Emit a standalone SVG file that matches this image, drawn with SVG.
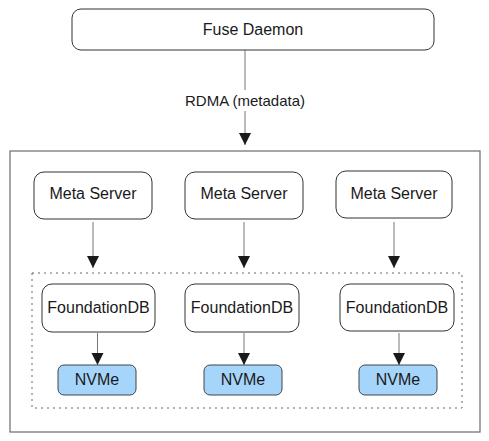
<svg xmlns="http://www.w3.org/2000/svg" width="489" height="441" viewBox="0 0 489 441">
<defs>
<marker id="ah" markerUnits="userSpaceOnUse" markerWidth="12" markerHeight="14" viewBox="0 0 12 14" refX="12" refY="6" orient="auto">
<path d="M0,0 L12,6 L0,12 Z" fill="#1a1a1a"/>
</marker>
<style>
.n{fill:#fff;stroke:#333;stroke-width:1}
.nv{fill:#a6d5fb;stroke:#444;stroke-width:1}
.t{font-family:"Liberation Sans",Arial,sans-serif;font-size:16px;fill:#1a1a1a;text-anchor:middle}
.c{stroke:#777;stroke-width:1;fill:none;marker-end:url(#ah)}
</style>
</defs>
<rect width="489" height="441" fill="#fff"/>
<g id="cluster">
<rect x="10" y="151" width="470" height="281" fill="none" stroke="#777" stroke-width="1.3"/>
<rect x="32" y="273" width="430" height="135" fill="none" stroke="#666" stroke-width="1" stroke-dasharray="2,4"/>
</g>
<g id="connectors">
<path class="c" d="M245,50 V145" stroke="#bbb"/>
<rect x="179" y="90" width="132" height="21" fill="#fff"/>
<text class="t" x="245" y="106" style="font-size:15px">RDMA (metadata)</text>
<path class="c" d="M93,222 V268"/>
<path class="c" d="M244,222 V268"/>
<path class="c" d="M394,222 V268"/>
<path class="c" d="M97.5,333 V365"/>
<path class="c" d="M244,333 V365"/>
<path class="c" d="M399,333 V365"/>
</g>
<g id="fuse"><rect class="n" x="72" y="9" width="362" height="41" rx="9"/><text class="t" x="253" y="35">Fuse Daemon</text></g>
<g id="meta1"><rect class="n" x="34" y="172" width="118" height="47" rx="10"/><text class="t" x="93" y="199">Meta Server</text></g>
<g id="meta2"><rect class="n" x="185" y="172" width="118" height="47" rx="10"/><text class="t" x="244" y="199">Meta Server</text></g>
<g id="meta3"><rect class="n" x="336" y="171" width="116" height="47" rx="10"/><text class="t" x="394" y="199">Meta Server</text></g>
<g id="fdb1"><rect class="n" x="42" y="284" width="113" height="48" rx="10"/><text class="t" x="98.5" y="313">FoundationDB</text></g>
<g id="fdb2"><rect class="n" x="185" y="284" width="114" height="48" rx="10"/><text class="t" x="242" y="313">FoundationDB</text></g>
<g id="fdb3"><rect class="n" x="340" y="284" width="114" height="47" rx="10"/><text class="t" x="397" y="313">FoundationDB</text></g>
<g id="nvme1"><rect class="nv" x="58" y="365" width="78" height="30" rx="6"/><text class="t" x="97" y="385">NVMe</text></g>
<g id="nvme2"><rect class="nv" x="204" y="365" width="78" height="30" rx="6"/><text class="t" x="243" y="385">NVMe</text></g>
<g id="nvme3"><rect class="nv" x="359" y="365" width="78" height="30" rx="6"/><text class="t" x="398" y="385">NVMe</text></g>
</svg>
